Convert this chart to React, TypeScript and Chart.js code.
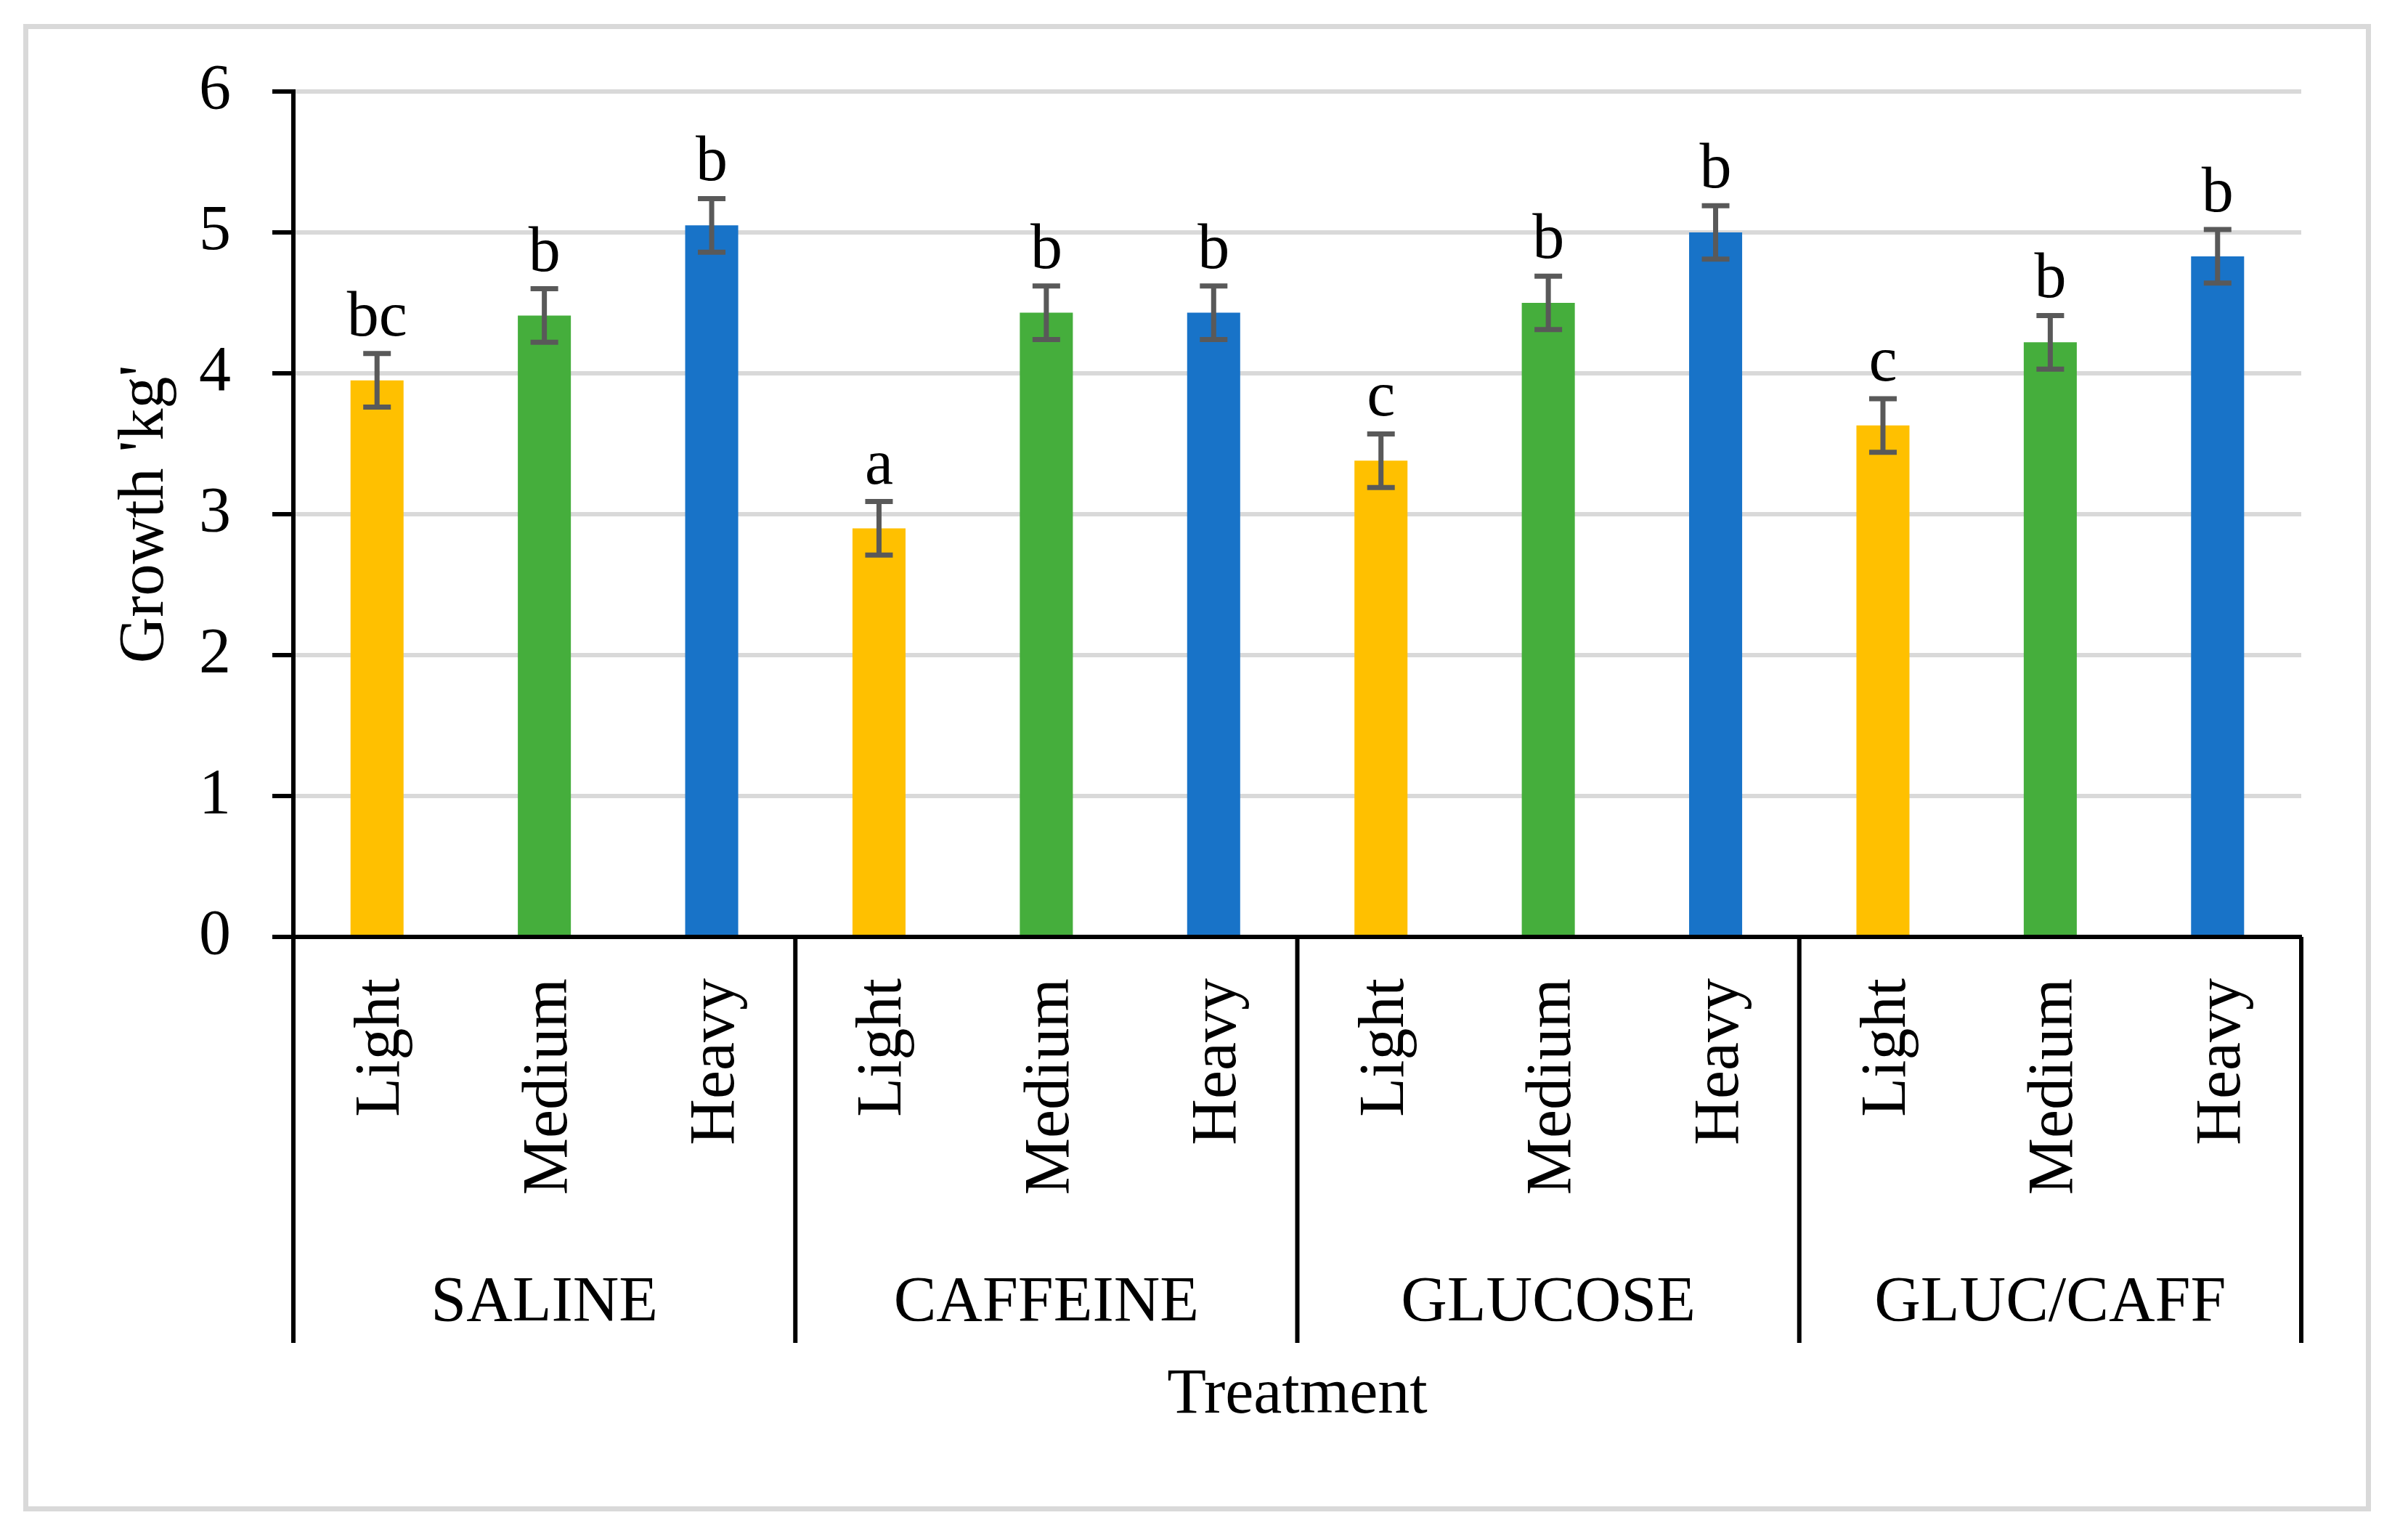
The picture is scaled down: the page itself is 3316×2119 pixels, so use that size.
import React, { useEffect, useRef } from 'react';
import { Chart, registerables } from 'chart.js';

Chart.register(...registerables);

// ---------------- data ----------------
const groups = ['SALINE', 'CAFFEINE', 'GLUCOSE', 'GLUC/CAFF'];
const levels = ['Light', 'Medium', 'Heavy'];
const categories = [
  'Light', 'Medium', 'Heavy',
  'Light', 'Medium', 'Heavy',
  'Light', 'Medium', 'Heavy',
  'Light', 'Medium', 'Heavy',
];
const growth = [3.95, 4.41, 5.05, 2.9, 4.43, 4.43, 3.38, 4.5, 5.0, 3.63, 4.22, 4.83];
const errors = [0.19, 0.19, 0.19, 0.19, 0.19, 0.19, 0.19, 0.19, 0.19, 0.19, 0.19, 0.19];
const letters = ['bc', 'b', 'b', 'a', 'b', 'b', 'c', 'b', 'b', 'c', 'b', 'b'];
const levelColors = ['#FFC000', '#45AE3C', '#1873C8'];
const yTitle = "Growth 'kg'";
const xTitle = 'Treatment';

// ---------------- style ----------------
const W = 3316;
const H = 2119;
const FONT_FAMILY = "'Liberation Serif', 'Times New Roman', serif";
const FONT_SIZE = 88;
const FONT = `${FONT_SIZE}px ${FONT_FAMILY}`;

const decorPlugin = {
  id: 'decor',
  beforeDraw(chart: any) {
    const { ctx } = chart;
    ctx.save();
    ctx.fillStyle = '#ffffff';
    ctx.fillRect(0, 0, chart.width, chart.height);
    ctx.strokeStyle = '#D9D9D9';
    ctx.lineWidth = 7;
    ctx.strokeRect(35.5, 36.5, 3226, 2041);
    ctx.restore();
  },
  afterDatasetsDraw(chart: any) {
    const { ctx } = chart;
    const xs = chart.scales.x;
    const ys = chart.scales.y;
    ctx.save();
    ctx.strokeStyle = '#595959';
    ctx.lineWidth = 7;
    ctx.lineCap = 'butt';
    ctx.fillStyle = '#000000';
    ctx.font = FONT;
    ctx.textAlign = 'center';
    ctx.textBaseline = 'alphabetic';
    growth.forEach((v, i) => {
      const x = xs.getPixelForValue(i);
      const yt = ys.getPixelForValue(v + errors[i]);
      const yb = ys.getPixelForValue(v - errors[i]);
      const cap = 19;
      ctx.beginPath();
      ctx.moveTo(x, yt);
      ctx.lineTo(x, yb);
      ctx.moveTo(x - cap, yt);
      ctx.lineTo(x + cap, yt);
      ctx.moveTo(x - cap, yb);
      ctx.lineTo(x + cap, yb);
      ctx.stroke();
      ctx.fillText(letters[i], x, yt - 25);
    });
    ctx.restore();
  },
  afterDraw(chart: any) {
    const { ctx, chartArea } = chart;
    const xs = chart.scales.x;
    const bottom = chartArea.bottom;
    const half = (xs.getPixelForValue(1) - xs.getPixelForValue(0)) / 2;
    ctx.save();
    // group separators
    ctx.strokeStyle = '#000000';
    ctx.lineWidth = 6;
    for (let g = 0; g <= groups.length; g++) {
      const idx = g * levels.length;
      const x = idx < categories.length
        ? xs.getPixelForValue(idx) - half
        : xs.getPixelForValue(categories.length - 1) + half;
      ctx.beginPath();
      ctx.moveTo(x, bottom);
      ctx.lineTo(x, bottom + 559);
      ctx.stroke();
    }
    // category labels (rotated)
    ctx.fillStyle = '#000000';
    ctx.font = FONT;
    categories.forEach((lab, i) => {
      const x = xs.getPixelForValue(i);
      ctx.save();
      ctx.translate(x, bottom + 57);
      ctx.rotate(-Math.PI / 2);
      ctx.textAlign = 'right';
      ctx.textBaseline = 'alphabetic';
      ctx.fillText(lab, 0, 30);
      ctx.restore();
    });
    // group labels
    ctx.textAlign = 'center';
    ctx.textBaseline = 'alphabetic';
    groups.forEach((g, gi) => {
      const a = xs.getPixelForValue(gi * 3) - half;
      const b = xs.getPixelForValue(gi * 3 + 2) + half;
      ctx.fillText(g, (a + b) / 2, bottom + 528);
    });
    ctx.restore();
  },
};

export default function App() {
  const ref = useRef<HTMLCanvasElement | null>(null);
  useEffect(() => {
    if (!ref.current) return;
    Chart.defaults.font.family = FONT_FAMILY;
    const chart = new Chart(ref.current, {
      type: 'bar',
      data: {
        labels: categories,
        datasets: [
          {
            data: growth,
            backgroundColor: categories.map((_, i) => levelColors[i % 3]),
            borderWidth: 0,
            barPercentage: 0.317,
            categoryPercentage: 1,
          },
        ],
      },
      options: {
        animation: false,
        responsive: false,
        layout: { padding: { top: 126, right: 147, left: 0, bottom: 0 } },
        plugins: {
          legend: { display: false },
          tooltip: { enabled: false },
        },
        scales: {
          x: {
            type: 'category',
            offset: true,
            grid: { display: false, drawTicks: false },
            ticks: { display: false },
            border: { display: true, color: '#000000', width: 6 },
            title: {
              display: true,
              text: xTitle,
              color: '#000000',
              font: { size: FONT_SIZE, family: FONT_FAMILY },
              padding: { top: 0, bottom: 144 },
            },
            afterFit: (scale: any) => {
              scale.height = 829;
            },
          },
          y: {
            min: 0,
            max: 6,
            ticks: {
              stepSize: 1,
              color: '#000000',
              font: { size: FONT_SIZE, family: FONT_FAMILY },
              padding: 57,
            },
            grid: {
              color: '#D9D9D9',
              lineWidth: 6,
              drawTicks: true,
              tickLength: 29,
              tickColor: '#000000',
              tickWidth: 6,
            },
            border: { display: true, color: '#000000', width: 6 },
            title: {
              display: true,
              text: yTitle,
              color: '#000000',
              font: { size: FONT_SIZE, family: FONT_FAMILY },
              padding: { top: 148, bottom: 0 },
            },
            afterFit: (scale: any) => {
              scale.width = 404;
            },
          },
        },
      },
      plugins: [decorPlugin],
    });
    return () => chart.destroy();
  }, []);
  return (
    <div style={{ position: 'fixed', left: 0, top: 0, width: W, height: H, background: '#fff' }}>
      <canvas ref={ref} width={W} height={H} style={{ display: 'block', width: W, height: H }} />
    </div>
  );
}
